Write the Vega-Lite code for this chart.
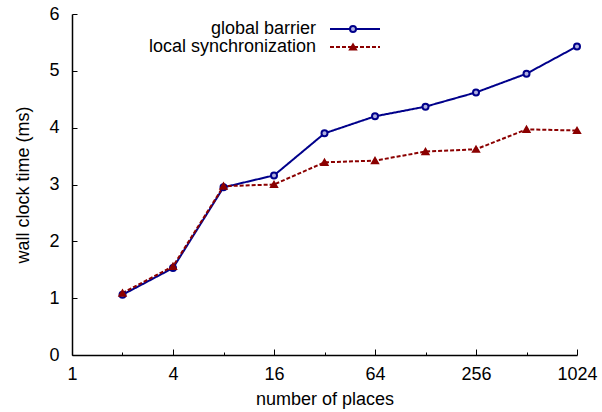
{
  "$schema": "https://vega.github.io/schema/vega-lite/v6.json",
  "width": 505,
  "height": 341,
  "autosize": "none",
  "padding": {"left": 72, "top": 14, "right": 25, "bottom": 57},
  "background": "white",
  "config": {
    "view": {"stroke": null},
    "font": "Liberation Sans",
    "axis": {
      "labelFont": "Liberation Sans",
      "titleFont": "Liberation Sans",
      "labelFontSize": 18,
      "titleFontSize": 18,
      "labelColor": "black",
      "titleColor": "black",
      "domainColor": "black",
      "tickColor": "black",
      "domainWidth": 1.5,
      "tickWidth": 1,
      "titleFontWeight": "normal",
      "grid": false
    },
    "legend": {
      "labelFont": "Liberation Sans",
      "labelFontSize": 18,
      "labelColor": "black",
      "labelLimit": 400
    }
  },
  "data": {
    "values": [
      {"places": 2, "time": 1.06, "series": "global barrier"},
      {"places": 4, "time": 1.53, "series": "global barrier"},
      {"places": 8, "time": 2.95, "series": "global barrier"},
      {"places": 16, "time": 3.16, "series": "global barrier"},
      {"places": 32, "time": 3.90, "series": "global barrier"},
      {"places": 64, "time": 4.20, "series": "global barrier"},
      {"places": 128, "time": 4.37, "series": "global barrier"},
      {"places": 256, "time": 4.62, "series": "global barrier"},
      {"places": 512, "time": 4.95, "series": "global barrier"},
      {"places": 1024, "time": 5.43, "series": "global barrier"},
      {"places": 2, "time": 1.09, "series": "local synchronization"},
      {"places": 4, "time": 1.56, "series": "local synchronization"},
      {"places": 8, "time": 2.97, "series": "local synchronization"},
      {"places": 16, "time": 3.00, "series": "local synchronization"},
      {"places": 32, "time": 3.39, "series": "local synchronization"},
      {"places": 64, "time": 3.42, "series": "local synchronization"},
      {"places": 128, "time": 3.58, "series": "local synchronization"},
      {"places": 256, "time": 3.62, "series": "local synchronization"},
      {"places": 512, "time": 3.97, "series": "local synchronization"},
      {"places": 1024, "time": 3.95, "series": "local synchronization"}
    ]
  },
  "layer": [
    {
      "mark": {"type": "line", "strokeWidth": 2},
      "encoding": {
        "x": {
          "field": "places", "type": "quantitative",
          "scale": {"type": "log", "base": 2, "domain": [1, 1024], "nice": false},
          "axis": {"values": [1, 4, 16, 64, 256, 1024], "format": "d", "title": "number of places", "tickSize": -6, "labelPadding": 16, "titlePadding": 7, "labelFlush": false}
        },
        "y": {
          "field": "time", "type": "quantitative",
          "scale": {"domain": [0, 6], "nice": false},
          "axis": {"values": [0, 1, 2, 3, 4, 5, 6], "format": "d", "title": "wall clock time (ms)", "tickSize": -5, "labelPadding": 18, "titlePadding": 16}
        },
        "color": {
          "field": "series", "type": "nominal",
          "scale": {"domain": ["global barrier", "local synchronization"], "range": ["#00008b", "#8b0000"]},
          "legend": {
            "title": null,
            "orient": "none",
            "legendX": 274,
            "legendY": 6,
            "labelAlign": "right",
            "labelOffset": -48,
            "symbolType": "M-5,0L5,0",
            "symbolSize": 100,
            "symbolStrokeWidth": 2,
            "rowPadding": 0,
            "padding": 0
          }
        },
        "strokeDash": {
          "field": "series", "type": "nominal",
          "scale": {"domain": ["global barrier", "local synchronization"], "range": [[1, 0], [4, 2]]},
          "legend": {
            "title": null,
            "orient": "none",
            "legendX": 274,
            "legendY": 6,
            "labelAlign": "right",
            "labelOffset": -48,
            "symbolType": "M-5,0L5,0",
            "symbolSize": 100,
            "symbolStrokeWidth": 2,
            "rowPadding": 0,
            "padding": 0
          }
        }
      }
    },
    {
      "mark": {"type": "point", "strokeWidth": 2, "opacity": 1, "size": 36},
      "encoding": {
        "x": {
          "field": "places", "type": "quantitative",
          "axis": {"orient": "bottom", "values": [2, 8, 32, 128, 512], "labels": false, "domain": false, "tickSize": -3, "title": null}
        },
        "y": {"field": "time", "type": "quantitative"},
        "shape": {
          "field": "series", "type": "nominal",
          "scale": {"range": ["circle", "triangle-up"]},
          "legend": {
            "title": null,
            "orient": "none",
            "legendX": 272,
            "legendY": 6,
            "labelOpacity": 0,
            "symbolSize": 36,
            "symbolStrokeWidth": 2,
            "rowPadding": 0,
            "padding": 0
          }
        },
        "stroke": {
          "field": "series", "type": "nominal",
          "scale": {"range": ["#00008b", "#8b0000"]},
          "legend": {
            "title": null,
            "orient": "none",
            "legendX": 272,
            "legendY": 6,
            "labelOpacity": 0,
            "symbolSize": 36,
            "symbolStrokeWidth": 2,
            "rowPadding": 0,
            "padding": 0
          }
        },
        "fill": {
          "field": "series", "type": "nominal",
          "scale": {"range": ["#b0b0e0", "#8b0000"]},
          "legend": {
            "title": null,
            "orient": "none",
            "legendX": 272,
            "legendY": 6,
            "labelOpacity": 0,
            "symbolSize": 36,
            "symbolStrokeWidth": 2,
            "rowPadding": 0,
            "padding": 0
          }
        }
      }
    }
  ],
  "resolve": {"axis": {"x": "independent"}}
}
